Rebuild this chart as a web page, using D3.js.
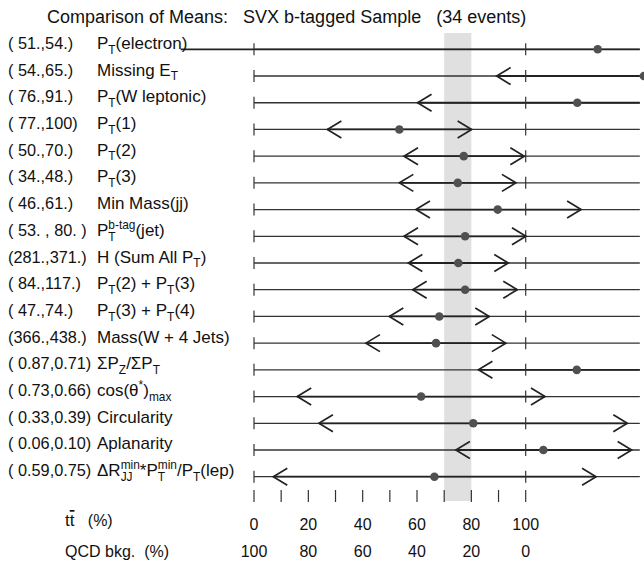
<!DOCTYPE html>
<html>
<head>
<meta charset="utf-8">
<script src="https://cdn.jsdelivr.net/npm/d3@7"></script>
<style>
  html, body { margin: 0; padding: 0; background: #fff; }
  text { font-family: "Liberation Sans", Arial, Helvetica, sans-serif; fill: #111; white-space: pre; }
</style>
</head>
<body>
<div id="chart"></div>
<script>
const title = 'Comparison of Means:   SVX b-tagged Sample   (34 events)'

const ranges = ['( 51.,54.)', '( 54.,65.)', '( 76.,91.)', '( 77.,100)', '( 50.,70.)', '( 34.,48.)',
  '( 46.,61.)', '( 53. , 80. )', '(281.,371.)', '( 84.,117.)', '( 47.,74.)', '(366.,438.)',
  '( 0.87,0.71)', '( 0.73,0.66)', '( 0.33,0.39)', '( 0.06,0.10)', '( 0.59,0.75)']

// _{..} subscript, ^{..} superscript
const variables = ['P_{T}(electron)', 'Missing E_{T}', 'P_{T}(W leptonic)', 'P_{T}(1)', 'P_{T}(2)', 'P_{T}(3)',
  'Min Mass(jj)', 'P_{T}^{b-tag}(jet)', 'H (Sum All P_{T})', 'P_{T}(2) + P_{T}(3)', 'P_{T}(3) + P_{T}(4)',
  'Mass(W + 4 Jets)', 'ΣP_{Z}/ΣP_{T}', 'cos(θ^{*})_{max}', 'Circularity', 'Aplanarity',
  'ΔR_{JJ}^{min}*P_{T}^{min}/P_{T}(lep)']

// ttbar fraction (%) for mean and the lower/upper arrow
const means = [126.5, 143.5, 119, 53.5, 77.2, 75, 89.7, 77.7, 75.2, 77.7, 68.2, 67, 118.8, 61.5, 80.7, 106.5, 66.4]
const lows = [-27, 89.3, 60.2, 27, 55.2, 53.5, 59.6, 55.2, 56.8, 58.4, 49.8, 41.2, 82.6, 15.9, 23.9, 74.3, 7.1]
const highs = [280, 197.7, 177.8, 80.1, 99.5, 96.4, 120.4, 100.1, 93.6, 96.9, 86.6, 92.7, 155, 107.1, 137.4, 139, 125.9]

const band = [70, 80]
const rowTicks = [0, 100]
const axisTicks = d3.range(0, 101, 10)
const axisLabels = [0, 20, 40, 60, 80, 100]

const width = 644, height = 566
const xMax = 142

const x = d3.scaleLinear().domain([0, 100]).range([254, 525.7])
const y = d3.scaleLinear().domain([0, ranges.length - 1]).range([49.3, 476.7])

const svg = d3.select('#chart').append('svg')
  .attr('width', width)
  .attr('height', height)

// shaded ttbar window
svg.append('rect')
  .attr('x', x(band[0]))
  .attr('y', 33)
  .attr('width', x(band[1]) - x(band[0]))
  .attr('height', 501 - 33)
  .attr('fill', '#e0e0e0')

svg.append('text').attr('x', 47).attr('y', 23).attr('font-size', 18).text(title)

// rich label: text with _{sub} and ^{sup}, stacked when adjacent
function richText(g, str, px, py, size) {
  const tokens = []
  const re = /([_^])\{([^}]*)\}|([^_^]+)/g
  let m
  while ((m = re.exec(str)) !== null) {
    if (m[3]) tokens.push({ t: m[3], k: 'n' })
    else tokens.push({ t: m[2], k: m[1] === '_' ? 'sub' : 'sup' })
  }
  const text = g.append('text').attr('font-size', size)
  let cx = px
  let i = 0
  while (i < tokens.length) {
    const tok = tokens[i]
    if (tok.k === 'n') {
      const s = text.append('tspan').attr('x', cx).attr('y', py).text(tok.t)
      cx += s.node().getComputedTextLength()
      i++
    } else {
      // group consecutive sub/sup
      let w = 0
      let j = i
      while (j < tokens.length && tokens[j].k !== 'n' && j < i + 2) {
        const dy = tokens[j].k === 'sub' ? size * 0.28 : -size * 0.42
        const s = text.append('tspan').attr('x', cx).attr('y', py + dy)
          .attr('font-size', size * 0.7).text(tokens[j].t)
        w = Math.max(w, s.node().getComputedTextLength())
        j++
      }
      cx += w
      i = j
    }
  }
}

const rows = svg.append('g')

ranges.forEach((r, i) => {
  const yy = y(i)
  svg.append('text').attr('x', 8).attr('y', yy - 0.5).attr('font-size', 16.3).text(r)
  richText(svg, variables[i], 97, yy - 0.5, 17)

  const g = rows.append('g')
  const lo = Math.max(lows[i], -30)
  const hi = Math.min(highs[i], xMax)

  // baseline
  g.append('line')
    .attr('x1', x(0)).attr('x2', x(xMax))
    .attr('y1', yy).attr('y2', yy)
    .attr('stroke', '#333').attr('stroke-width', 1.3)
  // error span
  g.append('line')
    .attr('x1', x(lo)).attr('x2', x(hi))
    .attr('y1', yy).attr('y2', yy)
    .attr('stroke', '#222').attr('stroke-width', 1.8)
  // ticks at 0 and 100
  rowTicks.forEach(t => {
    g.append('line')
      .attr('x1', x(t)).attr('x2', x(t))
      .attr('y1', yy - 6).attr('y2', yy + 6)
      .attr('stroke', '#333').attr('stroke-width', 1.2)
  })
  // arrowheads when inside the drawn range
  if (lows[i] >= 0 && lows[i] <= xMax) {
    const ax = x(lows[i])
    g.append('path')
      .attr('d', `M${ax + 14},${yy - 8.5} L${ax},${yy} L${ax + 14},${yy + 8.5}`)
      .attr('fill', 'none').attr('stroke', '#222').attr('stroke-width', 1.7)
  }
  if (highs[i] >= 0 && highs[i] <= xMax) {
    const ax = x(highs[i])
    g.append('path')
      .attr('d', `M${ax - 14},${yy - 8.5} L${ax},${yy} L${ax - 14},${yy + 8.5}`)
      .attr('fill', 'none').attr('stroke', '#222').attr('stroke-width', 1.7)
  }
  g.append('circle')
    .attr('cx', x(means[i])).attr('cy', yy).attr('r', 4.3)
    .attr('fill', '#505050')
})

// bottom scale
const axisG = svg.append('g')
axisG.selectAll('line').data(axisTicks).join('line')
  .attr('x1', d => x(d)).attr('x2', d => x(d))
  .attr('y1', 490).attr('y2', 502)
  .attr('stroke', '#333').attr('stroke-width', 1.2)

axisG.selectAll('text.tt').data(axisLabels).join('text')
  .attr('class', 'tt')
  .attr('x', d => x(d)).attr('y', 530)
  .attr('text-anchor', 'middle').attr('font-size', 16)
  .text(d => d)

axisG.selectAll('text.qcd').data(axisLabels).join('text')
  .attr('class', 'qcd')
  .attr('x', d => x(d)).attr('y', 557)
  .attr('text-anchor', 'middle').attr('font-size', 16)
  .text(d => 100 - d)

const ttLabel = svg.append('text').attr('x', 65).attr('y', 526).attr('font-size', 17)
ttLabel.append('tspan').text('t')
ttLabel.append('tspan').attr('text-decoration', 'overline').text('t')
ttLabel.append('tspan').attr('font-size', 16).text('   (%)')

svg.append('text').attr('x', 65).attr('y', 557).attr('font-size', 16).text('QCD bkg.  (%)')
</script>
</body>
</html>
